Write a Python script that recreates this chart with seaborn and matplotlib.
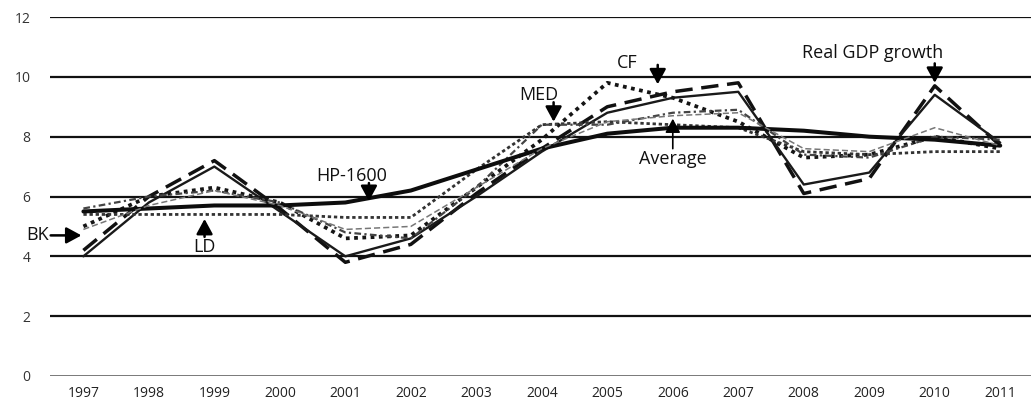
import matplotlib
matplotlib.use("Agg")
import matplotlib.pyplot as plt
import seaborn as sns
import pandas as pd
from matplotlib.ticker import FixedLocator

years = list(range(1997, 2012))

real_gdp = [4.2, 6.0, 7.2, 5.6, 3.8, 4.4, 6.1, 7.6, 9.0, 9.5, 9.8, 6.1, 6.6, 9.7, 7.7]
bk       = [4.0, 5.8, 7.0, 5.5, 4.0, 4.6, 6.0, 7.5, 8.8, 9.3, 9.5, 6.4, 6.8, 9.4, 7.8]
cf       = [5.0, 6.0, 6.3, 5.8, 4.6, 4.7, 6.3, 7.9, 9.8, 9.3, 8.5, 7.3, 7.4, 8.0, 7.6]
ld       = [5.4, 5.4, 5.4, 5.4, 5.3, 5.3, 6.9, 8.4, 8.5, 8.4, 8.3, 7.5, 7.4, 7.5, 7.5]
med      = [5.6, 6.0, 6.2, 5.8, 4.8, 4.6, 6.3, 8.4, 8.4, 8.8, 8.9, 7.4, 7.3, 8.0, 7.9]
hp1600   = [5.5, 5.6, 5.7, 5.7, 5.8, 6.2, 6.9, 7.6, 8.1, 8.3, 8.3, 8.2, 8.0, 7.9, 7.7]
average  = [4.9, 5.7, 6.2, 5.7, 4.9, 5.0, 6.3, 7.6, 8.5, 8.7, 8.8, 7.6, 7.5, 8.3, 7.7]

series = {
    "Real GDP growth": real_gdp,
    "BK": bk,
    "CF": cf,
    "LD": ld,
    "MED": med,
    "HP-1600": hp1600,
    "Average": average,
}

y_ticks = [0, 2, 4, 6, 8, 10, 12]

df = pd.DataFrame(
    [(y, name, v) for name, vals in series.items() for y, v in zip(years, vals)],
    columns=["year", "series", "value"],
)

colors = {
    "Real GDP growth": "#111111",
    "BK": "#1a1a1a",
    "CF": "#151515",
    "LD": "#333333",
    "MED": "#444444",
    "HP-1600": "#0d0d0d",
    "Average": "#777777",
}
widths = {
    "Real GDP growth": 2.5,
    "BK": 1.7,
    "CF": 2.7,
    "LD": 2.0,
    "MED": 1.6,
    "HP-1600": 2.9,
    "Average": 1.1,
}
dashes = {
    "Real GDP growth": (5, 2.5),
    "BK": "",
    "CF": (1, 1.2),
    "LD": (1.2, 1.0),
    "MED": (3, 1.5, 1, 1.5),
    "HP-1600": "",
    "Average": (4, 2),
}

sns.set_theme(style="white")
plt.rcParams["font.family"] = ["Open Sans", "DejaVu Sans"]

fig = plt.figure(figsize=(10.31, 4.13), dpi=100)
ax = fig.add_axes([0.0485, 0.0896, 0.9515, 0.8692])

# horizontal reference lines drawn first so the series sit on top
for t in y_ticks:
    ax.axhline(t, color="#111111" if t else "#555555", lw=1.6 if t else 1.1, zorder=1)

sns.lineplot(
    data=df, x="year", y="value", hue="series", style="series", size="series",
    palette=colors, dashes=dashes, sizes=widths, legend=False, ax=ax, zorder=3,
)

ax.set_xlim(1996.49, 2011.47)
ax.set_ylim(0, 12)
ax.set_xlabel("")
ax.set_ylabel("")
for s in ax.spines.values():
    s.set_visible(False)

ax.set_yticks(y_ticks)
ax.set_yticklabels([str(t) for t in y_ticks], fontsize=10, color="#333333")
ax.tick_params(axis="y", length=0, pad=14)

ax.set_xticks(years)
ax.set_xticklabels([str(y) for y in years], fontsize=10, color="#222222")
ax.tick_params(axis="x", which="major", length=0, pad=7)
ax.xaxis.set_minor_locator(FixedLocator([y + 0.5 for y in years[:-1]]))
ax.tick_params(axis="x", which="minor", length=4, width=1.2, color="#333333", direction="out")

head = "-|>,head_length=0.7,head_width=0.38"
arrow = dict(arrowstyle=head, mutation_scale=13, lw=1.8, color="black",
             shrinkA=0, shrinkB=0)
thin_arrow = dict(arrowstyle=head, mutation_scale=12, lw=1.2, color="black",
                  shrinkA=0, shrinkB=0)
label_kw = dict(fontsize=13, color="#111111", zorder=5)

ax.annotate("CF", xy=(2005.77, 9.75), xytext=(2005.3, 10.15),
            ha="center", va="bottom", **label_kw)
ax.annotate("", xy=(2005.77, 9.75), xytext=(2005.77, 10.4), arrowprops=arrow, zorder=5)

ax.annotate("MED", xy=(2004.18, 8.5), xytext=(2003.95, 9.1),
            ha="center", va="bottom", **label_kw)
ax.annotate("", xy=(2004.18, 8.5), xytext=(2004.18, 9.15), arrowprops=arrow, zorder=5)

ax.annotate("HP-1600", xy=(2001.36, 5.85), xytext=(2001.1, 6.4),
            ha="center", va="bottom", **label_kw)
ax.annotate("", xy=(2001.36, 5.85), xytext=(2001.36, 6.45), arrowprops=arrow, zorder=5)

ax.annotate("LD", xy=(1998.85, 5.25), xytext=(1998.85, 4.6),
            ha="center", va="top", **label_kw)
ax.annotate("", xy=(1998.85, 5.25), xytext=(1998.85, 4.65), arrowprops=arrow, zorder=5)

ax.annotate("BK", xy=(1996.97, 4.7), xytext=(1996.3, 4.7),
            ha="center", va="center", annotation_clip=False, **label_kw)
ax.annotate("", xy=(1996.97, 4.7), xytext=(1996.5, 4.7),
            arrowprops=arrow, annotation_clip=False, zorder=5)

ax.annotate("Average", xy=(2006.0, 8.6), xytext=(2006.0, 7.55),
            ha="center", va="top", **label_kw)
ax.annotate("", xy=(2006.0, 8.6), xytext=(2006.0, 7.6), arrowprops=thin_arrow, zorder=5)

ax.annotate("Real GDP growth", xy=(2010.0, 9.8), xytext=(2009.05, 10.5),
            ha="center", va="bottom", **label_kw)
ax.annotate("", xy=(2010.0, 9.8), xytext=(2010.0, 10.45), arrowprops=arrow, zorder=5)

fig.savefig("out.png", dpi=100)
